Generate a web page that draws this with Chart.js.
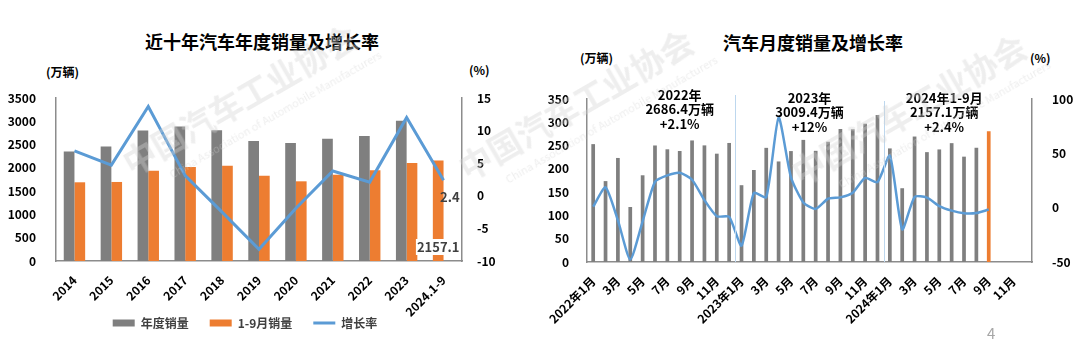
<!DOCTYPE html>
<html>
<head>
<meta charset="utf-8">
<script src="https://cdn.jsdelivr.net/npm/chart.js@4.4.0/dist/chart.umd.min.js"></script>
<style>
html, body { margin: 0; padding: 0; background: #fff; }
body { width: 1080px; height: 349px; position: relative; overflow: hidden; font-family: "Noto Sans CJK SC", "Noto Sans", sans-serif; }
canvas { position: absolute; top: 0; }
.title { position: absolute; font-size: 18px; font-weight: bold; color: #000; white-space: nowrap; transform: translate(-50%, -50%); }
.unit { position: absolute; font-size: 12px; font-weight: bold; color: #000; white-space: nowrap; transform: translateY(-50%); }
.wm { position: absolute; transform-origin: 0 0; transform: rotate(-30deg); color: rgba(210, 210, 210, 0.38); font-weight: bold; font-size: 33px; line-height: 36px; white-space: nowrap; pointer-events: none; }
.wm span { display: block; font-size: 11px; line-height: 14px; font-weight: normal; margin-left: 34px; margin-top: 6px; }
#pg { position: absolute; left: 987px; top: 322px; font-size: 15px; color: #a6a6a6; }
</style>
</head>
<body>
<div class="title" style="left:262px;top:41px">近十年汽车年度销量及增长率</div>
<div class="unit" style="left:46px;top:71px">(万辆)</div>
<div class="unit" style="left:469px;top:69px">(%)</div>
<div class="title" style="left:813px;top:42px">汽车月度销量及增长率</div>
<div class="unit" style="left:580px;top:57px">(万辆)</div>
<div class="unit" style="left:1030px;top:57px">(%)</div>

<canvas id="yearChart" width="500" height="349" style="left:0"></canvas>
<canvas id="monthChart" width="540" height="349" style="left:540px"></canvas>

<div class="wm" style="left:116px;top:149px">中国汽车工业协会<span>China Association of Automobile Manufacturers</span></div>
<div class="wm" style="left:452px;top:154px">中国汽车工业协会<span>China Association of Automobile Manufacturers</span></div>
<div class="wm" style="left:785px;top:159px">中国汽车工业协会<span>China Association of Automobile Manufacturers</span></div>
<div id="pg">4</div>

<script>
// 年度数据（万辆 / %）
const years = ['2014', '2015', '2016', '2017', '2018', '2019', '2020', '2021', '2022', '2023', '2024.1-9'];
const annualSales = [2349.2, 2459.8, 2802.8, 2887.9, 2808.1, 2576.9, 2531.1, 2627.5, 2686.4, 3009.4, 2157.1];
const janSepSales = [1690, 1697, 1939, 2018, 2047, 1832, 1711, 1853, 1947, 2104, null];
const growthRate = [6.9, 4.7, 13.7, 3.1, -2.5, -8.2, -1.9, 3.8, 2.1, 12, 2.4];

// 月度数据 2022.1 - 2024.12
const months = [
  '2022年1月', '2月', '3月', '4月', '5月', '6月', '7月', '8月', '9月', '10月', '11月', '12月',
  '2023年1月', '2月', '3月', '4月', '5月', '6月', '7月', '8月', '9月', '10月', '11月', '12月',
  '2024年1月', '2月', '3月', '4月', '5月', '6月', '7月', '8月', '9月', '10月', '11月', '12月'
];
const monthlySales = [
  253.1, 173.7, 223.4, 118.1, 186.2, 250.2, 242.0, 238.3, 261.0, 250.4, 232.6, 255.6,
  164.9, 197.6, 245.1, 215.9, 238.2, 262.2, 238.7, 258.2, 285.8, 285.3, 297.0, 315.6,
  243.9, 158.4, 269.4, 235.9, 241.7, 255.2, 226.2, 245.3, 280.9, null, null, null
];
const monthlyGrowth = [
  0.9, 18.7, -11.7, -47.6, -12.6, 23.8, 29.7, 32.1, 25.7, 6.9, -7.9, -8.4,
  -35.0, 13.5, 9.7, 82.7, 27.9, 4.8, -1.1, 8.2, 9.5, 13.8, 27.4, 23.5,
  47.9, -19.9, 9.9, 9.3, 1.5, -2.7, -5.2, -5.0, -1.7, null, null, null
];

const FONT = '"Noto Sans CJK SC", "Noto Sans", sans-serif';
const GRAY = '#7F7F7F', ORANGE = '#ED7D31', BLUE = '#5B9BD5', AXIS = '#8C8C8C';
const tickFont = { family: FONT, size: 12, weight: 'bold' };
const plain = v => String(v);
// 标签比轴区域宽/高时不裁剪
const noClip = s => { s._computeLabelArea = () => undefined; };

// 最后一年的数据标签
const lastLabels = {
  id: 'lastLabels',
  afterDatasetsDraw(chart) {
    const ctx = chart.ctx;
    const n = years.length - 1;
    const bar = chart.getDatasetMeta(0).data[n];
    const pt = chart.getDatasetMeta(2).data[n];
    ctx.save();
    ctx.font = 'bold 13px ' + FONT;
    ctx.textBaseline = 'middle';
    ctx.fillStyle = '#404040';
    ctx.textAlign = 'right';
    ctx.fillText(String(growthRate[n]), pt.x + 16, pt.y + 17);
    const t = annualSales[n].toFixed(1);
    const w = ctx.measureText(t).width;
    const cy = chart.chartArea.bottom - 14;
    ctx.fillStyle = '#fff';
    ctx.fillRect(bar.x - w / 2 - 1, cy - 8, w + 2, 16);
    ctx.fillStyle = '#404040';
    ctx.textAlign = 'center';
    ctx.fillText(t, bar.x, cy);
    ctx.restore();
  }
};

new Chart(document.getElementById('yearChart'), {
  data: {
    labels: years,
    datasets: [
      {
        type: 'bar', label: '年度销量', data: annualSales, yAxisID: 'y', order: 1,
        backgroundColor: annualSales.map((v, i) => i === annualSales.length - 1 ? ORANGE : GRAY),
        pointStyle: 'rect', barPercentage: 1, categoryPercentage: 0.58
      },
      {
        type: 'bar', label: '1-9月销量', data: janSepSales, yAxisID: 'y', order: 1,
        backgroundColor: ORANGE, pointStyle: 'rect', barPercentage: 1, categoryPercentage: 0.58
      },
      {
        type: 'line', label: '增长率', data: growthRate, yAxisID: 'y1', order: 0,
        borderColor: BLUE, backgroundColor: BLUE, borderWidth: 3, pointRadius: 0,
        pointStyle: 'line', tension: 0
      }
    ]
  },
  options: {
    responsive: false,
    animation: false,
    layout: { padding: { top: 98, left: 0, right: 10, bottom: 10 } },
    plugins: {
      legend: {
        position: 'bottom',
        labels: {
          usePointStyle: true, pointStyleWidth: 22, boxHeight: 7, padding: 21,
          color: '#404040', font: { family: FONT, size: 12, weight: 'bold' },
          sort: (a, b) => a.datasetIndex - b.datasetIndex
        }
      },
      tooltip: { enabled: false }
    },
    scales: {
      x: {
        grid: { display: false },
        border: { color: AXIS, width: 1.5 },
        ticks: { font: tickFont, color: '#000', maxRotation: 45, minRotation: 45, padding: 4 },
        afterFit: s => { s.height = 35; noClip(s); }
      },
      y: {
        position: 'left', min: 0, max: 3500,
        grid: { display: false },
        border: { color: AXIS, width: 1.5 },
        ticks: { stepSize: 500, font: tickFont, color: '#000', padding: 12, callback: plain },
        afterFit: s => { s.width = 56; }
      },
      y1: {
        position: 'right', min: -10, max: 15,
        grid: { display: false },
        border: { color: AXIS, width: 1.5 },
        ticks: { stepSize: 5, font: tickFont, color: '#000', padding: 7, callback: plain },
        afterFit: s => { s.width = 490 - 462; noClip(s); }
      }
    }
  },
  plugins: [lastLabels]
});

// 年份分隔线和年度汇总文字
const yearNotes = {
  id: 'yearNotes',
  afterDatasetsDraw(chart) {
    const ctx = chart.ctx;
    const xs = chart.scales.x;
    const top = chart.chartArea.top, bottom = chart.chartArea.bottom;
    const px = v => {
      const i = Math.floor(v);
      return xs.getPixelForValue(i) + (v - i) * (xs.getPixelForValue(i + 1) - xs.getPixelForValue(i));
    };
    ctx.save();
    ctx.strokeStyle = '#BDD7EE';
    ctx.lineWidth = 1;
    [[11.5, top - 4], [23.5, top + 2]].forEach(([v, y0]) => {
      const x = Math.round(px(v)) + 0.5;
      ctx.beginPath();
      ctx.moveTo(x, y0);
      ctx.lineTo(x, bottom);
      ctx.stroke();
    });
    const notes = [
      { at: 7, dy: -4, head: '2022年', k: 8 },
      { at: 17.5, dy: -1, head: '2023年', k: 9 },
      { at: 28.4, dy: -1, head: '2024年1-9月', k: 10 }
    ];
    ctx.font = 'bold 13px ' + FONT;
    ctx.fillStyle = '#000';
    ctx.textAlign = 'center';
    ctx.textBaseline = 'middle';
    notes.forEach(n => {
      const x = px(n.at);
      const y = top + n.dy;
      ctx.fillText(n.head, x, y);
      ctx.fillText(annualSales[n.k].toFixed(1) + '万辆', x, y + 14.5);
      ctx.fillText('+' + growthRate[n.k] + '%', x, y + 29);
    });
    ctx.restore();
  }
};

new Chart(document.getElementById('monthChart'), {
  data: {
    labels: months,
    datasets: [
      {
        type: 'bar', label: '月度销量', data: monthlySales, yAxisID: 'y', order: 1,
        backgroundColor: monthlySales.map((v, i) => i === 32 ? ORANGE : GRAY),
        barPercentage: 1, categoryPercentage: 0.3
      },
      {
        type: 'line', label: '增长率', data: monthlyGrowth, yAxisID: 'y1', order: 0,
        borderColor: BLUE, borderWidth: 2.5, pointRadius: 0, tension: 0.2
      }
    ]
  },
  options: {
    responsive: false,
    animation: false,
    layout: { padding: { top: 99, left: 0, right: 0, bottom: 0 } },
    plugins: { legend: { display: false }, tooltip: { enabled: false } },
    scales: {
      x: {
        grid: { display: false },
        border: { color: AXIS, width: 1.5 },
        ticks: {
          font: tickFont, color: '#000', maxRotation: 45, minRotation: 45, padding: 4, autoSkip: false,
          callback: function (v, i) { return i % 2 === 0 ? this.getLabelForValue(v) : ''; }
        },
        afterFit: s => { s.height = 349 - 262; }
      },
      y: {
        position: 'left', min: 0, max: 350,
        grid: { display: false },
        border: { color: AXIS, width: 1.5 },
        ticks: { stepSize: 50, font: tickFont, color: '#000', padding: 10, callback: plain },
        afterFit: s => { s.width = 47; }
      },
      y1: {
        position: 'right', min: -50, max: 100,
        grid: { display: false },
        border: { color: AXIS, width: 1.5 },
        ticks: { stepSize: 50, font: tickFont, color: '#000', padding: 12, callback: plain },
        afterFit: s => { s.width = 48; }
      }
    }
  },
  plugins: [yearNotes]
});
</script>
</body>
</html>
